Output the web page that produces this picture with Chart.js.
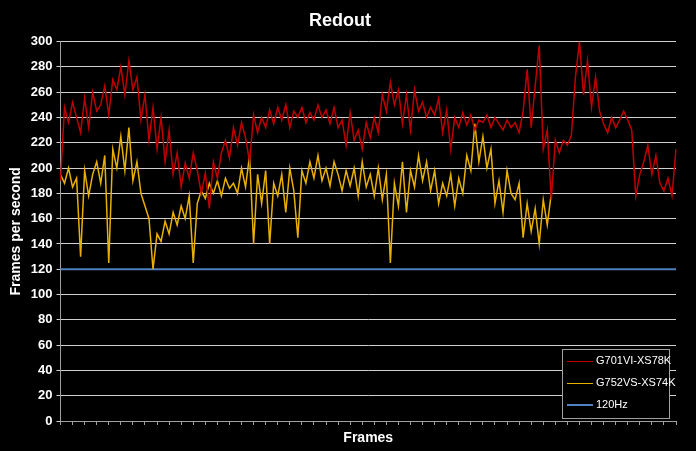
<!DOCTYPE html>
<html>
<head>
<meta charset="utf-8">
<script src="https://cdn.jsdelivr.net/npm/chart.js@4/dist/chart.umd.min.js"></script>
<style>
  body { margin: 0; background: #000; }
  #wrap { position: relative; width: 696px; height: 451px; }
  #legend {
    position: absolute; left: 562px; top: 349px; width: 106px; height: 68px;
    border: 1px solid #a0a0a0; background: #000; color: #fff;
    font: 11px "Liberation Sans", Arial, sans-serif;
  }
  #legend div { position: absolute; left: 4px; height: 14px; line-height: 14px; white-space: nowrap; }
  #legend span { display: inline-block; width: 26px; vertical-align: middle; margin-right: 3px; }
</style>
</head>
<body>
<div id="wrap">
  <canvas id="chart" width="696" height="451"></canvas>
  <div id="legend">
    <div style="top:3px"><span style="border-top:1px solid #c00000"></span>G701VI-XS78K</div>
    <div style="top:25px"><span style="border-top:1px solid #e8b000"></span>G752VS-XS74K</div>
    <div style="top:47px"><span style="border-top:2px solid #4f81bd"></span>120Hz</div>
  </div>
</div>
<script>
const g701 = [
  190, 248, 236, 252, 240, 228, 255, 232, 260, 245,
  250, 265, 242, 270, 262, 280, 258, 285, 262, 272,
  238, 258, 222, 248, 215, 240, 205, 230, 195, 212,
  185, 204, 192, 212, 198, 180, 196, 168, 205, 192,
  212, 222, 208, 232, 218, 236, 224, 205, 242, 228,
  240, 232, 246, 235, 248, 238, 250, 232, 245, 240,
  248, 236, 244, 238, 250, 240, 246, 235, 248, 232,
  238, 218, 244, 222, 230, 215, 236, 224, 240, 228,
  258, 245, 268, 250, 262, 235, 258, 230, 262, 245,
  252, 240, 248, 242, 255, 228, 246, 215, 240, 232,
  244, 234, 242, 230, 238, 236, 242, 232, 240, 235,
  230, 238, 232, 236, 228, 245, 278, 232, 265, 297,
  215, 230, 175, 222, 212, 222, 218, 226, 272, 300,
  258, 285, 248, 272, 245, 235, 228, 240, 232, 238,
  245, 238, 230, 178, 195, 205, 218, 195, 210, 188,
  182, 192, 178, 215
];
const g752 = [
  195, 188, 200, 185, 192, 130, 198, 178, 195, 205,
  188, 210, 125, 215, 200, 225, 198, 232, 190, 205,
  180, 170, 160, 120, 148, 142, 158, 148, 165, 155,
  170, 160, 178, 125, 172, 182, 176, 188, 180, 190,
  178, 192, 184, 188, 180, 200, 185, 210, 140, 195,
  172, 198, 140, 188, 178, 195, 165, 200, 182, 145,
  198, 188, 205, 192, 210, 190, 200, 186, 205, 195,
  182, 198, 186, 200, 178, 205, 185, 195, 178, 200,
  175, 195, 125, 188, 170, 205, 165, 198, 185, 210,
  190, 205, 182, 198, 172, 188, 178, 195, 170, 192,
  180, 210, 198, 235, 205, 225, 200, 215, 172, 190,
  165, 198, 180, 175, 188, 145, 172, 150, 168, 140,
  175, 155, 180
];
const hz120 = g701.map(() => 120);
const frames = g701.map(() => '');
const yTicks = [0, 20, 40, 60, 80, 100, 120, 140, 160, 180, 200, 220, 240, 260, 280, 300];

const ctx = document.getElementById('chart').getContext('2d');
new Chart(ctx, {
  type: 'line',
  data: {
    labels: frames,
    datasets: [
      { label: 'G701VI-XS78K', data: g701, borderColor: '#c00000', borderWidth: 1.5, pointRadius: 0, tension: 0 },
      { label: 'G752VS-XS74K', data: g752, borderColor: '#e8b000', borderWidth: 1.5, pointRadius: 0, tension: 0 },
      { label: '120Hz', data: hz120, borderColor: '#4f81bd', borderWidth: 2, pointRadius: 0 },
    ],
  },
  options: {
    responsive: false,
    animation: false,
    layout: { padding: { left: 4, right: 20, top: 0, bottom: 4 } },
    plugins: {
      legend: { display: false },
      tooltip: { enabled: false },
      title: {
        display: true, text: 'Redout', color: '#fff',
        font: { family: 'Liberation Sans', size: 18, weight: 'bold' },
        padding: { top: 10, bottom: 10 },
      },
    },
    scales: {
      x: {
        offset: false,
        grid: { display: true, drawOnChartArea: false, color: '#a0a0a0', tickLength: 4 },
        border: { color: '#a0a0a0' },
        ticks: {
          autoSkip: false, maxRotation: 0, padding: 0, font: { size: 1 },
          callback: (v, i) => (i % 3 === 0 ? '' : null),
        },
        title: {
          display: true, text: 'Frames', color: '#fff',
          font: { family: 'Liberation Sans', size: 14, weight: 'bold' }, padding: { top: 4, bottom: 0 },
        },
      },
      y: {
        min: 0, max: 300,
        afterBuildTicks: (axis) => { axis.ticks = yTicks.map((v) => ({ value: v })); },
        grid: { color: '#d0d0d0', tickLength: 4 },
        border: { color: '#a0a0a0' },
        ticks: { color: '#fff', font: { family: 'Liberation Sans', size: 13, weight: 'bold' }, padding: 4 },
        title: {
          display: true, text: 'Frames per second', color: '#fff',
          font: { family: 'Liberation Sans', size: 14, weight: 'bold' }, padding: { bottom: 2 },
        },
      },
    },
  },
});
</script>
</body>
</html>
